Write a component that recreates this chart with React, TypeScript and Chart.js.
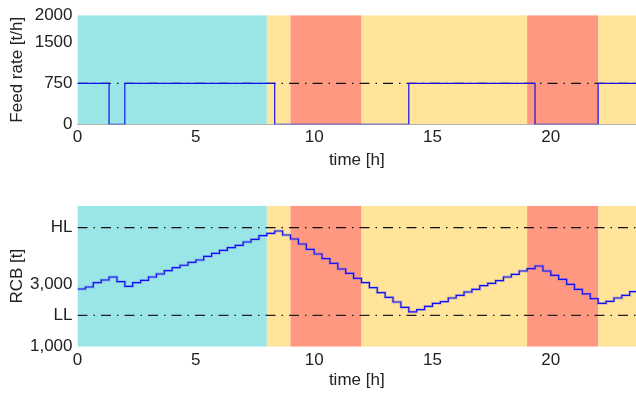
import React, { useEffect, useRef } from 'react';
import { Chart, registerables } from 'chart.js';

Chart.register(...registerables);

// ---------- data ----------
const X_MAX = 23.6;
const xTicks = [0, 5, 10, 15, 20];

// operating zones (hours)
const zoneStart = [0, 8, 9, 12, 19, 22];
const zoneEnd = [8, 9, 12, 19, 22, 24];
const zoneKind = ['low', 'mid', 'high', 'mid', 'high', 'mid'];

// feed rate [t/h] changes (value holds from this hour on)
const feedChangeHours = [0, 1.333, 2, 8.333, 14, 19.333, 22, 24];
const feedRate = [750, 0, 750, 0, 750, 0, 750, 750];
const FEED_NOMINAL = 750;
const feedTicks = [0, 750, 1500, 2000];

// RCB [t], one value per 20-minute step starting at 0 h
const STEP_HOURS = 1 / 3;
const rcb = [
  2842, 2906, 3043, 3129, 3225, 3075, 2928, 3043, 3119, 3225,
  3320, 3426, 3522, 3600, 3694, 3767, 3885, 3981, 4077, 4160,
  4236, 4342, 4428, 4543, 4619, 4693, 4565, 4438, 4278, 4108,
  3959, 3809, 3660, 3480, 3342, 3183, 3043, 2883, 2724, 2577,
  2427, 2252, 2112, 2181, 2289, 2385, 2436, 2554, 2640, 2746,
  2832, 2947, 3022, 3107, 3224, 3311, 3416, 3490, 3576, 3416,
  3278, 3150, 2992, 2832, 2683, 2535, 2385, 2449, 2554, 2640,
  2755,
];
const HL = 4800;
const LL = 2000;
const rcbTicks = [1000, LL, 3000, HL];

// ---------- styles ----------
const ZONE_COLORS: Record<string, string> = {
  low: 'rgb(154,230,230)',
  mid: 'rgb(255,228,153)',
  high: 'rgb(255,152,128)',
};
const TEXT = '#222';
const FONT_FAMILY = '"Liberation Sans", Arial, sans-serif';
const LINE_BLUE = '#1010f0';
const HALO_BLUE = 'rgba(100,100,255,0.35)';
const DASH_DOT = [10, 6, 1.5, 6];

const zonePlugin = {
  id: 'zones',
  beforeDraw(chart: any) {
    const { ctx, chartArea, scales } = chart;
    const x = scales.x;
    ctx.save();
    ctx.beginPath();
    ctx.rect(chartArea.left, chartArea.top, chartArea.right - chartArea.left, chartArea.bottom - chartArea.top);
    ctx.clip();
    zoneStart.forEach((s, i) => {
      const x0 = x.getPixelForValue(s);
      const x1 = x.getPixelForValue(zoneEnd[i]);
      ctx.fillStyle = ZONE_COLORS[zoneKind[i]];
      ctx.fillRect(x0, chartArea.top, x1 - x0, chartArea.bottom - chartArea.top);
    });
    ctx.restore();
  },
};

function xScale(height: number, titlePadBottom: number, border: boolean) {
  return {
    type: 'linear',
    min: 0,
    max: X_MAX,
    afterBuildTicks: (s: any) => {
      s.ticks = xTicks.map((v) => ({ value: v }));
    },
    afterFit: (s: any) => {
      s.height = height;
    },
    grid: { display: false, drawTicks: false },
    border: { display: border, color: '#b0b0b0', width: 1 },
    ticks: { padding: 3, color: TEXT, font: { family: FONT_FAMILY, size: 17 }, maxRotation: 0 },
    title: {
      display: true,
      text: 'time [h]',
      color: TEXT,
      font: { family: FONT_FAMILY, size: 17 },
      padding: { top: 0, bottom: titlePadBottom },
    },
  };
}

function yScale(min: number, max: number, ticks: number[], title: string, fmt: (v: number) => string) {
  return {
    type: 'linear',
    min,
    max,
    afterBuildTicks: (s: any) => {
      s.ticks = ticks.map((v) => ({ value: v }));
    },
    afterFit: (s: any) => {
      s.width = 77.5;
    },
    grid: { display: false, drawTicks: false },
    border: { display: false },
    ticks: {
      padding: 5,
      color: TEXT,
      font: { family: FONT_FAMILY, size: 17 },
      callback: (v: any) => fmt(Number(v)),
    },
    title: {
      display: true,
      text: title,
      color: TEXT,
      font: { family: FONT_FAMILY, size: 17 },
      padding: { top: 7.3, bottom: 0 },
    },
  };
}

function lineDs(data: any[], color: string, width: number, dash?: number[], stepped?: any) {
  return {
    data,
    borderColor: color,
    borderWidth: width,
    borderDash: dash || [],
    stepped: stepped || false,
    pointRadius: 0,
    fill: false,
    tension: 0,
  };
}

function FeedChart() {
  const ref = useRef<HTMLCanvasElement>(null);
  useEffect(() => {
    const feedPts = feedChangeHours.map((h, i) => ({ x: h, y: feedRate[i] }));
    const nominal = [{ x: 0, y: FEED_NOMINAL }, { x: X_MAX, y: FEED_NOMINAL }];
    const chart = new Chart(ref.current as HTMLCanvasElement, {
      type: 'line',
      data: {
        datasets: [
          lineDs(feedPts, LINE_BLUE, 1.2, undefined, 'before'),
          lineDs(nominal, '#111', 1.2, DASH_DOT),
        ] as any,
      },
      options: {
        responsive: false,
        animation: false,
        parsing: false,
        layout: { padding: { top: 12.7, left: 0, right: 0, bottom: 0 } },
        plugins: { legend: { display: false }, tooltip: { enabled: false } },
        scales: {
          x: xScale(60.7, 14.5, true),
          y: yScale(0, 2000, feedTicks, 'Feed rate [t/h]', (v) => String(v)),
        } as any,
      },
      plugins: [zonePlugin],
    } as any);
    return () => chart.destroy();
  }, []);
  return (
    <canvas
      ref={ref}
      width={636}
      height={185}
      style={{ position: 'absolute', left: 0, top: 0, width: 636, height: 185 }}
    />
  );
}

function RcbChart() {
  const ref = useRef<HTMLCanvasElement>(null);
  useEffect(() => {
    const pts = rcb.map((v, i) => ({ x: i * STEP_HOURS, y: v }));
    pts.push({ x: rcb.length * STEP_HOURS, y: rcb[rcb.length - 1] });
    const hl = [{ x: 0, y: HL }, { x: X_MAX, y: HL }];
    const ll = [{ x: 0, y: LL }, { x: X_MAX, y: LL }];
    const chart = new Chart(ref.current as HTMLCanvasElement, {
      type: 'line',
      data: {
        datasets: [
          lineDs(pts, LINE_BLUE, 1.2, undefined, 'before'),
          lineDs(pts, HALO_BLUE, 2.8, undefined, 'before'),
          lineDs(hl, '#111', 1.2, DASH_DOT),
          lineDs(ll, '#222', 1.2, DASH_DOT),
        ] as any,
      },
      options: {
        responsive: false,
        animation: false,
        parsing: false,
        layout: { padding: { top: 20.7, left: 0, right: 0, bottom: 0 } },
        plugins: { legend: { display: false }, tooltip: { enabled: false } },
        scales: {
          x: xScale(46.3, 2.8, false),
          y: yScale(1000, 5500, rcbTicks, 'RCB [t]', (v) =>
            v === HL ? 'HL' : v === LL ? 'LL' : v.toLocaleString('en-US')
          ),
        } as any,
      },
      plugins: [zonePlugin],
    } as any);
    return () => chart.destroy();
  }, []);
  return (
    <canvas
      ref={ref}
      width={636}
      height={208}
      style={{ position: 'absolute', left: 0, top: 185, width: 636, height: 208 }}
    />
  );
}

export default function App() {
  return (
    <div style={{ position: 'absolute', left: 0, top: 0, width: 636, height: 393, background: '#fff', overflow: 'hidden' }}>
      <FeedChart />
      <RcbChart />
    </div>
  );
}
